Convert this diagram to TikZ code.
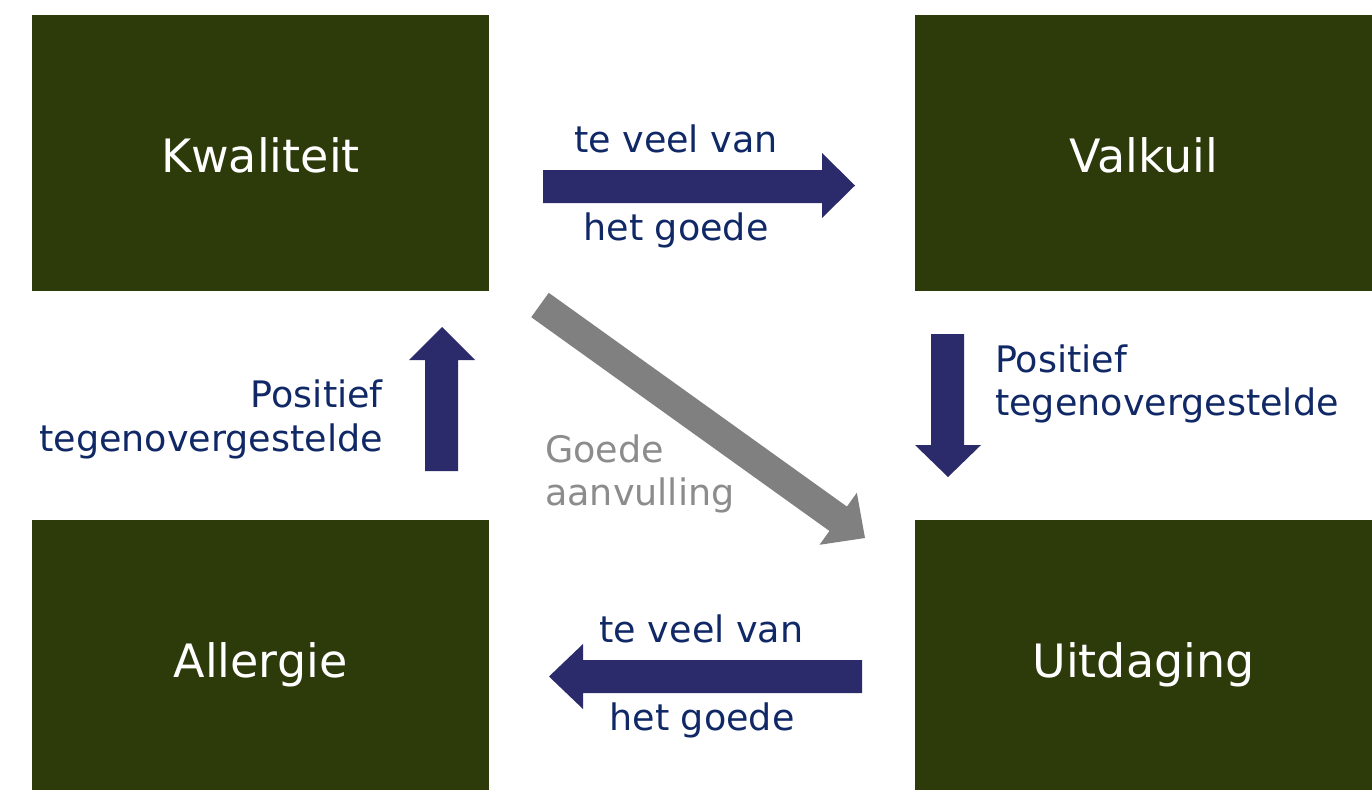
\documentclass[tikz,border=0pt]{standalone}
\usepackage{fontspec}
\setmainfont{DejaVu Sans}
\definecolor{boxgreen}{RGB}{45,58,10}
\definecolor{arrownavy}{RGB}{43,43,107}
\definecolor{textnavy}{RGB}{16,40,102}
\definecolor{arrowgray}{RGB}{128,128,128}
\definecolor{textgray}{RGB}{140,140,140}
\tikzset{
  greenbox/.style={draw=none, fill=boxgreen, inner sep=0pt},
  boxlabel/.style={inner sep=0pt, anchor=base, text=white, font=\fontsize{46}{55}\selectfont},
  navylabel/.style={inner sep=0pt, text=textnavy, font=\fontsize{36.5}{43.5}\selectfont},
  graylabel/.style={inner sep=0pt, text=textgray, font=\fontsize{36.5}{43.5}\selectfont},
}
\begin{document}
\begin{tikzpicture}[x=1pt,y=-1pt]
\useasboundingbox (0,0) rectangle (1372,790);
\fill[white] (0,0) rectangle (1372,790);
% boxes
\fill[boxgreen] (32,15) rectangle (489,291) coordinate (kwse);
\coordinate (kw) at (260.5,153);
\fill[boxgreen] (915,15) rectangle (1372,291);
\coordinate (vk) at (1143.5,153);
\fill[boxgreen] (32,520) rectangle (489,790);
\coordinate (al) at (260.5,655);
\fill[boxgreen] (915,520) rectangle (1372,790);
\coordinate (ui) at (1143.5,655);
\node[boxlabel] (kwlabel) at (260.5,172) {Kwaliteit};
\node[boxlabel] (vklabel) at (1143.5,172) {Valkuil};
\node[boxlabel] (allabel) at (260.5,677) {Allergie};
\node[boxlabel] (uilabel) at (1143.5,677) {Uitdaging};
% arrows
\fill[arrownavy] (543,170) -- (822,170) -- (822,153) -- (855,185.5) -- (822,218) -- (822,203) -- (543,203) -- cycle;
\fill[arrownavy] (862,660) -- (583,660) -- (583,644) -- (549,676.5) -- (583,709) -- (583,693) -- (862,693) -- cycle;
\fill[arrownavy] (425,471) -- (425,360) -- (409,360) -- (442,327) -- (475,360) -- (458,360) -- (458,471) -- cycle;
\fill[arrownavy] (931,334) -- (931,445) -- (915,445) -- (948,477) -- (981,445) -- (964,445) -- (964,334) -- cycle;
\fill[arrowgray] (548.74,292.81) -- (846.92,506.58) -- (856.82,492.76) -- (865,538) -- (819.54,544.78) -- (829.44,530.96) -- (531.26,317.19) -- cycle;
% labels
\node[navylabel, anchor=base] (t1) at (676,152) {te veel van};
\node[navylabel, anchor=base] (t2) at (676,240) {het goede};
\node[navylabel, anchor=base] (b1) at (701.5,642) {te veel van};
\node[navylabel, anchor=base] (b2) at (702,730) {het goede};
\node[navylabel, anchor=base east] (l1) at (383,407) {Positief};
\node[navylabel, anchor=base east] (l2) at (383,451) {tegenovergestelde};
\node[navylabel, anchor=base west] (r1) at (995,372) {Positief};
\node[navylabel, anchor=base west] (r2) at (995,415) {tegenovergestelde};
\node[graylabel, anchor=base west] (g1) at (545,462) {Goede};
\node[graylabel, anchor=base west] (g2) at (545,505) {aanvulling};
\end{tikzpicture}
\end{document}
